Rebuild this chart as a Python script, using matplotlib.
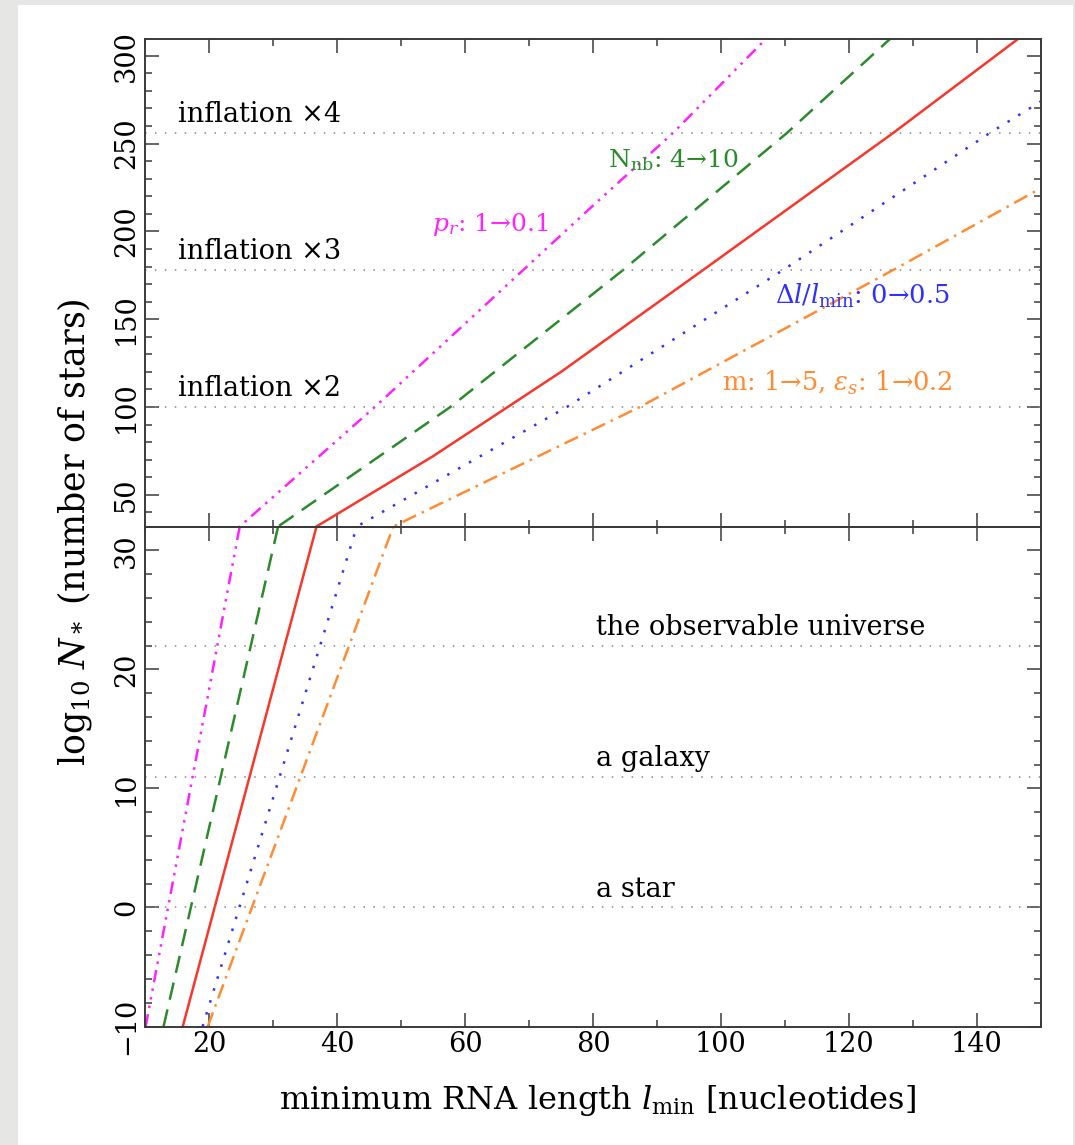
import matplotlib
matplotlib.use("Agg")
from matplotlib import pyplot as plt
from matplotlib.patches import Rectangle
from matplotlib.ticker import MultipleLocator

# curves: (l_min, log10 N*) -- lower panel part and upper panel part
red_x = [15.9, 36.8, 55.0, 75.0, 97.2, 126.9, 146.4]
red_y = [-10, 32, 72, 120, 178, 256, 309.5]

magenta_x = [10.1, 24.8, 45.9, 79.5, 92.5, 107.0]
magenta_y = [-10, 32, 100, 213, 256, 309.5]

green_x = [12.9, 30.8, 57.7, 84.7, 110.3, 126.4]
green_y = [-10, 32, 100, 178, 256, 309.5]

blue_x = [19.0, 43.1, 75.9, 109.7, 142.0, 150.0]
blue_y = [-10, 32, 100, 178, 256, 274]

orange_x = [19.8, 48.8, 87.3, 126.9, 150.0]
orange_y = [-10, 32, 100, 178, 224.6]

# horizontal reference levels
upper_levels = [100, 178, 256]
upper_names = ["inflation \u00d72", "inflation \u00d73", "inflation \u00d74"]
lower_levels = [0, 11, 22]
lower_names = ["a star", "a galaxy", "the observable universe"]

BREAK = 32

plt.rcParams['font.family'] = ['DejaVu Serif']
plt.rcParams['mathtext.fontset'] = 'dejavuserif'

fig = plt.figure(figsize=(10.75, 11.45), dpi=100)
fig.patch.set_facecolor('#e6e6e4')
fig.patches.append(Rectangle((18 / 1075, 0), (1073 - 18) / 1075, 1 - 5 / 1145,
                             transform=fig.transFigure, facecolor='white',
                             edgecolor='none', zorder=-5))

L = 145 / 1075
W = (1041 - 145) / 1075
ax_lo = fig.add_axes([L, (1145 - 1026.5) / 1145, W, 500 / 1145])
ax_hi = fig.add_axes([L, (1145 - 526.5) / 1145, W, 487.5 / 1145], sharex=ax_lo)

styles = [
    (red_x, red_y, '#f8372a', '-'),
    (magenta_x, magenta_y, '#ff22ff', (0, (5, 2.5, 1, 2.5, 1, 2.5, 1, 2.5))),
    (green_x, green_y, '#2b8a2b', (0, (7, 4))),
    (blue_x, blue_y, '#3030ff', (0, (1, 4))),
    (orange_x, orange_y, '#ff8c33', (0, (6, 2.5, 1, 2.5))),
]

dot = (0, (1, 5.5))
for ax in (ax_lo, ax_hi):
    ax.set_facecolor('none')
    for xs, ys, c, ls in styles:
        ax.plot(xs, ys, color=c, linestyle=ls, lw=1.8)
    for s in ax.spines.values():
        s.set_color('#3a3a3a')
        s.set_linewidth(1.4)
    ax.tick_params(which='both', direction='in', top=True, right=True,
                   colors='#3a3a3a', labelcolor='black', labelsize=19.5)
    ax.tick_params(which='major', length=10, width=1.1)
    ax.tick_params(which='minor', length=5, width=1.1)
    ax.xaxis.set_major_locator(MultipleLocator(20))
    ax.xaxis.set_minor_locator(MultipleLocator(10))

for lev in upper_levels:
    ax_hi.axhline(lev, color='#888888', lw=1.1, linestyle=dot)
for lev in lower_levels:
    ax_lo.axhline(lev, color='#888888', lw=1.1, linestyle=dot)

ax_lo.set_xlim(10, 150)
ax_lo.set_ylim(-10, BREAK)
ax_hi.set_ylim(BREAK, 309.5)

ax_hi.yaxis.set_major_locator(MultipleLocator(50))
ax_hi.yaxis.set_minor_locator(MultipleLocator(10))
ax_lo.yaxis.set_major_locator(MultipleLocator(10))
ax_lo.yaxis.set_minor_locator(MultipleLocator(2))
ax_hi.tick_params(labelbottom=False)

for ax in (ax_lo, ax_hi):
    for t in ax.get_yticklabels():
        t.set_rotation(90)
        t.set_va('center')

# level labels
for lev, name in zip(upper_levels, upper_names):
    ax_hi.text(15.2, lev + 3, name, fontsize=19.5, va='bottom')
for lev, name in zip(lower_levels, lower_names):
    ax_lo.text(80.5, lev + 0.4, name, fontsize=19.5, va='bottom')

# parameter labels
ax_hi.text(54.8, 204, "$p_r$: 1\u21920.1", color='#ff22ff', fontsize=18, va='center')
ax_hi.text(82.3, 240.5, "N$_{\\rm nb}$: 4\u219210", color='#2b8a2b', fontsize=18, va='center')
ax_hi.text(108.4, 163, "$\\Delta l/l_{\\rm min}$: 0\u21920.5", color='#3030ff', fontsize=18.5, va='center')
ax_hi.text(100.2, 114, "m: 1\u21925, $\\epsilon_s$: 1\u21920.2", color='#ff8c33', fontsize=18.5, va='center')

fig.text(75 / 1075, 1 - 532 / 1145, r"log$_{10}$ $N_*$ (number of stars)",
         rotation=90, ha='center', va='center', fontsize=25)
fig.text(598 / 1075, 1 - 1100 / 1145, r"minimum RNA length $l_{\rm min}$ [nucleotides]",
         ha='center', va='center', fontsize=23)

fig.savefig("out.png", dpi=100, facecolor=fig.get_facecolor())
